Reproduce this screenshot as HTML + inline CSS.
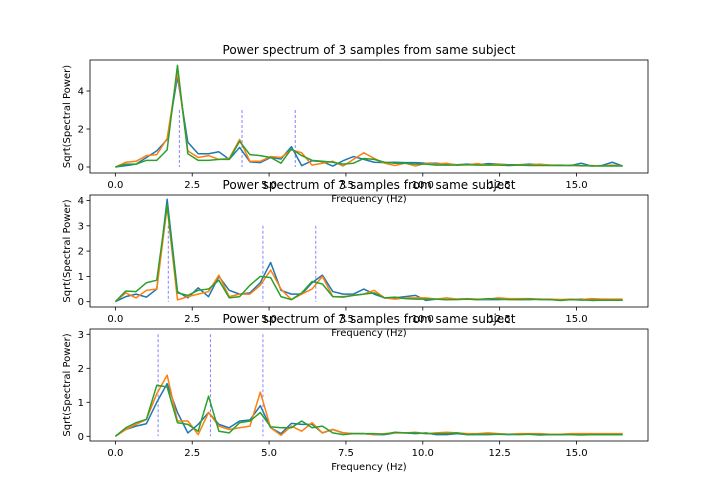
<!DOCTYPE html>
<html><head><meta charset="utf-8"><style>
body{margin:0;background:#fff;}
svg{display:block;font-family:"DejaVu Sans","Liberation Sans",sans-serif;}
</style></head><body>
<svg id="chart" width="720" height="504" viewBox="0 0 720 504" xmlns="http://www.w3.org/2000/svg">
<rect width="720" height="504" fill="#fff"/>
</svg>
<script>
const freqStep = 16.5/49;
const xTicks = [0, 2.5, 5, 7.5, 10, 12.5, 15];
const xTickLabels = ["0.0","2.5","5.0","7.5","10.0","12.5","15.0"];
const yTicks1 = [0,2,4];
const yTicks2 = [0,1,2,3,4];
const yTicks3 = [0,1,2,3];
const vlines1 = [2.08, 4.12, 5.85];
const vlines2 = [1.72, 4.80, 6.52];
const vlines3 = [1.39, 3.09, 4.80];
const top_blue = [0,0.07,0.15,0.5,0.85,1.45,4.75,1.3,0.7,0.7,0.8,0.4,1.03,0.27,0.23,0.5,0.42,1.07,0.07,0.33,0.28,0.05,0.33,0.55,0.4,0.25,0.23,0.25,0.23,0.23,0.2,0.2,0.15,0.12,0.15,0.12,0.18,0.15,0.12,0.12,0.15,0.12,0.1,0.1,0.08,0.2,0.05,0.08,0.25,0.05];
const top_orange = [0,0.25,0.3,0.6,0.65,1.5,5.0,0.85,0.5,0.6,0.4,0.45,1.45,0.3,0.3,0.55,0.5,0.9,0.75,0.1,0.2,0.3,0.05,0.4,0.75,0.45,0.2,0.08,0.2,0.05,0.2,0.15,0.2,0.1,0.12,0.18,0.1,0.15,0.08,0.12,0.1,0.15,0.1,0.08,0.1,0.05,0.08,0.05,0.1,0.05];
const top_green = [0,0.15,0.15,0.35,0.35,0.9,5.35,0.7,0.35,0.35,0.4,0.4,1.35,0.65,0.6,0.5,0.2,0.95,0.6,0.35,0.3,0.25,0.15,0.2,0.45,0.4,0.25,0.2,0.2,0.15,0.15,0.1,0.1,0.1,0.12,0.1,0.1,0.1,0.08,0.1,0.08,0.08,0.08,0.08,0.08,0.08,0.05,0.05,0.06,0.05];
const mid_blue = [0,0.2,0.3,0.18,0.5,4.05,0.4,0.15,0.55,0.2,1.0,0.45,0.3,0.35,0.75,1.55,0.45,0.3,0.3,0.75,1.05,0.4,0.3,0.3,0.5,0.3,0.15,0.15,0.2,0.25,0.05,0.1,0.08,0.1,0.1,0.08,0.08,0.08,0.1,0.08,0.08,0.1,0.08,0.08,0.08,0.1,0.05,0.06,0.06,0.06];
const mid_orange = [0,0.35,0.15,0.45,0.5,3.75,0.07,0.2,0.3,0.4,1.05,0.2,0.3,0.3,0.65,1.25,0.5,0.08,0.3,0.5,1.0,0.2,0.2,0.25,0.3,0.45,0.15,0.1,0.15,0.15,0.15,0.1,0.15,0.1,0.12,0.1,0.1,0.15,0.12,0.12,0.12,0.1,0.1,0.08,0.1,0.08,0.12,0.1,0.1,0.1];
const mid_green = [0,0.42,0.4,0.75,0.85,3.85,0.35,0.25,0.45,0.5,0.85,0.15,0.2,0.65,1.0,0.95,0.2,0.08,0.35,0.8,0.7,0.2,0.18,0.25,0.3,0.35,0.15,0.18,0.12,0.1,0.1,0.1,0.08,0.08,0.1,0.08,0.12,0.1,0.08,0.08,0.1,0.08,0.08,0.05,0.08,0.06,0.06,0.06,0.06,0.06];
const bot_blue = [0,0.2,0.3,0.37,1.0,1.55,0.7,0.1,0.35,0.7,0.35,0.25,0.45,0.48,0.9,0.25,0.08,0.38,0.35,0.35,0.1,0.2,0.1,0.08,0.08,0.05,0.05,0.1,0.1,0.08,0.1,0.05,0.05,0.08,0.05,0.05,0.05,0.06,0.05,0.06,0.06,0.04,0.05,0.05,0.06,0.05,0.05,0.05,0.05,0.05];
const bot_orange = [0,0.2,0.35,0.5,1.25,1.8,0.45,0.45,0.05,0.7,0.3,0.2,0.25,0.3,1.3,0.25,0.03,0.3,0.15,0.4,0.1,0.2,0.1,0.08,0.08,0.05,0.08,0.1,0.1,0.12,0.08,0.1,0.12,0.1,0.08,0.08,0.1,0.08,0.06,0.08,0.08,0.08,0.06,0.06,0.08,0.08,0.08,0.08,0.08,0.08];
const bot_green = [0,0.25,0.4,0.5,1.5,1.45,0.4,0.35,0.15,1.18,0.15,0.1,0.4,0.45,0.7,0.28,0.25,0.25,0.45,0.25,0.3,0.1,0.05,0.08,0.08,0.08,0.06,0.12,0.1,0.1,0.08,0.08,0.08,0.1,0.05,0.06,0.06,0.06,0.06,0.05,0.06,0.05,0.05,0.05,0.05,0.04,0.05,0.05,0.05,0.05];

const NS="http://www.w3.org/2000/svg";
const svg=document.getElementById('chart');
const X0=90, X1=648, XMIN=-0.825, XMAX=17.325;
function xs(v){return X0+(v-XMIN)/(XMAX-XMIN)*(X1-X0);}
function mk(tag,attrs,parent){const e=document.createElementNS(NS,tag);for(const k in attrs)e.setAttribute(k,attrs[k]);(parent||svg).appendChild(e);return e;}
const colors={blue:'#1f77b4',orange:'#ff7f0e',green:'#2ca02c'};
const panels=[
 {name:'top',top:60,bot:173,zero:167,scale:19,yt:yTicks1,vl:vlines1,series:[['blue',top_blue],['orange',top_orange],['green',top_green]]},
 {name:'middle',top:195,bot:307,zero:301.7,scale:25.3,yt:yTicks2,vl:vlines2,series:[['blue',mid_blue],['orange',mid_orange],['green',mid_green]]},
 {name:'bottom',top:329,bot:441,zero:436.3,scale:34,yt:yTicks3,vl:vlines3,series:[['blue',bot_blue],['orange',bot_orange],['green',bot_green]]}
];
panels.forEach(p=>{
 const g=mk('g',{});
 
 
 const ys=v=>p.zero-v*p.scale;
 p.yt.forEach(t=>{
  const y=ys(t);
  const tk=mk('line',{x1:X0-3.5,x2:X0,y1:y,y2:y,stroke:'#000','stroke-width':0.8},g);
  
  
  const tl=mk('text',{x:X0-6,y:y+3.5,'font-size':10,'text-anchor':'end',fill:'#000'},g);
  tl.textContent=String(t);
  
  
 });
 xTicks.forEach((t,i)=>{
  const x=xs(t);
  const tk=mk('line',{x1:x,x2:x,y1:p.bot,y2:p.bot+3.5,stroke:'#000','stroke-width':0.8},g);
  
  
  const tl=mk('text',{x:x,y:p.bot+15,'font-size':10,'text-anchor':'middle',fill:'#000'},g);
  tl.textContent=xTickLabels[i];
  
  
 });
 p.vl.forEach(f=>{
  const l=mk('line',{x1:xs(f),x2:xs(f),y1:ys(3),y2:ys(0),stroke:'#0000ff','stroke-opacity':0.6,'stroke-width':0.8,'stroke-dasharray':'3,2'},g);
  
  
 });
 p.series.forEach(([c,arr])=>{
  const pts=arr.map((v,i)=>xs(i*freqStep).toFixed(2)+','+ys(v).toFixed(2)).join(' ');
  const pl=mk('polyline',{points:pts,fill:'none',stroke:colors[c],'stroke-width':1.5,'stroke-linejoin':'round'},g);
  
  
 });
 const fr=mk('rect',{x:X0,y:p.top,width:X1-X0,height:p.bot-p.top,fill:'none',stroke:'#000','stroke-width':0.8},g);
 
 
 const yl=mk('text',{x:0,y:0,'font-size':10,'text-anchor':'middle',fill:'#000',transform:`translate(70,${(p.top+p.bot)/2}) rotate(-90)`},g);
 yl.textContent='Sqrt(Spectral Power)';
 
 
 const xl=mk('text',{x:369,y:p.bot+29,'font-size':10,'text-anchor':'middle',fill:'#000'},g);
 xl.textContent='Frequency (Hz)';
 
 
 const tt=mk('text',{x:369,y:p.top-6,'font-size':12,'text-anchor':'middle',fill:'#000'},g);
 tt.textContent='Power spectrum of 3 samples from same subject';
 
 
});
</script>
</body></html>
